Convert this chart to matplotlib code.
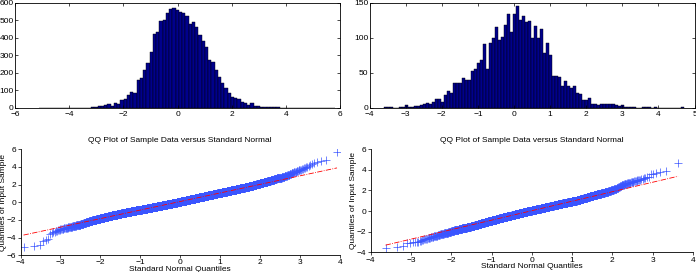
"""Histograms of two samples with their normal QQ plots underneath."""
import numpy as np
import matplotlib
matplotlib.use('Agg')
import matplotlib.pyplot as plt

plt.rcParams['font.family'] = ['Liberation Sans', 'DejaVu Sans']

# left sample: histogram bins (center of first bin, bin width) and counts
left_c0, left_w = -5.05, 0.12
left_counts = [
    1, 1, 1, 0, 0, 1, 1, 1, 0, 0,
    0, 0, 1, 1, 2, 2, 4, 5, 10, 12,
    15, 25, 10, 28, 22, 48, 51, 72, 91, 86,
    158, 171, 215, 257, 320, 425, 434, 497, 505, 540,
    568, 572, 562, 549, 545, 526, 478, 491, 463, 415,
    380, 349, 272, 263, 215, 177, 140, 116, 85, 65,
    57, 50, 36, 30, 19, 28, 12, 9, 7, 6,
    5, 4, 4, 3, 2, 2, 2, 1, 1, 1,
    1, 1, 1, 0, 0, 0, 0, 0, 0, 0,
    1,
]

# right sample
right_c0, right_w = -3.55, 0.083
right_counts = [
    1, 1, 1, 0, 0, 1, 2, 4, 1, 2,
    3, 3, 4, 5, 7, 5, 9, 13, 13, 9,
    18, 24, 22, 35, 35, 35, 43, 40, 40, 53,
    55, 64, 69, 91, 56, 93, 100, 115, 97, 102,
    118, 134, 108, 134, 145, 125, 131, 123, 124, 100,
    117, 100, 113, 79, 93, 75, 45, 45, 44, 31,
    39, 32, 29, 31, 21, 20, 12, 11, 14, 6,
    5, 4, 5, 6, 6, 6, 5, 4, 3, 4,
    2, 2, 1, 1, 0, 0, 2, 1, 1, 0,
    1, 0, 0, 0, 0, 0, 0, 0, 0, 1,
]

left_xticks = [-6, -4, -2, 0, 2, 4, 6]
left_yticks = [0, 100, 200, 300, 400, 500, 600]
right_xticks = [-4, -3, -2, -1, 0, 1, 2, 3, 4, 5]
right_yticks = [0, 50, 100, 150]
qq_xticks = [-4, -3, -2, -1, 0, 1, 2, 3, 4]
qq_left_yticks = [-6, -4, -2, 0, 2, 4, 6]
qq_right_yticks = [-4, -2, 0, 2, 4, 6]

FS = 6


def norm_ppf(p):
    # Acklam's rational approximation of the inverse normal cdf
    a = [-3.969683028665376e+01, 2.209460984245205e+02, -2.759285104469687e+02,
         1.383577518672690e+02, -3.066479806614716e+01, 2.506628277459239e+00]
    b = [-5.447609879822406e+01, 1.615858368580409e+02, -1.556989798598866e+02,
         6.680131188771972e+01, -1.328068155288572e+01]
    c = [-7.784894002430293e-03, -3.223964580411365e-01, -2.400758277161838e+00,
         -2.549732188138014e+00, 4.374664141464968e+00, 2.938163982698783e+00]
    d = [7.784695709041462e-03, 3.224671290700398e-01, 2.445134137142996e+00,
         3.754408661907416e+00]
    p = np.asarray(p, dtype=float)
    out = np.empty_like(p)
    lo = p < 0.02425
    hi = p > 1 - 0.02425
    mid = ~(lo | hi)
    q = np.sqrt(-2 * np.log(p[lo]))
    out[lo] = (((((c[0]*q + c[1])*q + c[2])*q + c[3])*q + c[4])*q + c[5]) / \
              ((((d[0]*q + d[1])*q + d[2])*q + d[3])*q + 1)
    q = np.sqrt(-2 * np.log(1 - p[hi]))
    out[hi] = -(((((c[0]*q + c[1])*q + c[2])*q + c[3])*q + c[4])*q + c[5]) / \
               ((((d[0]*q + d[1])*q + d[2])*q + d[3])*q + 1)
    q = p[mid] - 0.5
    r = q * q
    out[mid] = (((((a[0]*r + a[1])*r + a[2])*r + a[3])*r + a[4])*r + a[5]) * q / \
               (((((b[0]*r + b[1])*r + b[2])*r + b[3])*r + b[4])*r + 1)
    return out


def centers(c0, w, counts):
    return c0 + w * np.arange(len(counts))


def sample_from_hist(c0, w, counts):
    # spread each bin's count evenly inside the bin
    vals = []
    for m, n in zip(centers(c0, w, counts), counts):
        if n == 1:
            vals.append(m)
        elif n > 1:
            vals.extend(m + w * ((np.arange(n) + 0.5) / n - 0.5))
    return np.sort(np.array(vals))


def hist_panel(ax, c0, w, counts, xlim, xticks, ylim, yticks):
    ax.bar(centers(c0, w, counts), counts, width=w, color='#00008c',
           edgecolor='black', linewidth=0.3)
    ax.set_xlim(*xlim); ax.set_ylim(*ylim)
    ax.set_xticks(xticks); ax.set_yticks(yticks)
    ax.tick_params(direction='in', top=True, right=True, length=2.5,
                   width=0.5, labelsize=FS, pad=1)
    ax.tick_params(axis='x', pad=2)
    for s in ax.spines.values():
        s.set_linewidth(0.6)


def qq_panel(ax, c0, w, counts, ylim, yticks):
    y = sample_from_hist(c0, w, counts)
    n = len(y)
    x = norm_ppf((np.arange(1, n + 1) - 0.5) / n)
    # reference line through the quartiles
    q1, q3 = np.percentile(y, [25, 75])
    z1, z3 = norm_ppf(np.array([0.25, 0.75]))
    slope = (q3 - q1) / (z3 - z1)
    icpt = q1 - slope * z1
    ax.plot(x, y, '+', color='#3a55ff', markersize=6, markeredgewidth=0.5)
    xx = np.array([x[0], x[-1]])
    ax.plot(xx, icpt + slope * xx, '-.', color='red', linewidth=0.6)
    ax.set_xlim(-4, 4); ax.set_ylim(*ylim)
    ax.set_xticks(qq_xticks); ax.set_yticks(yticks)
    ax.spines['top'].set_visible(False)
    ax.spines['right'].set_visible(False)
    for s in ('left', 'bottom'):
        ax.spines[s].set_linewidth(0.6)
    ax.tick_params(direction='out', length=2, width=0.5, labelsize=FS, pad=1)
    ax.set_title('QQ Plot of Sample Data versus Standard Normal', fontsize=FS, pad=5)
    ax.set_xlabel('Standard Normal Quantiles', fontsize=FS, labelpad=-0.5)
    ax.set_ylabel('Quantiles of Input Sample', fontsize=FS, labelpad=0)


fig = plt.figure(figsize=(6.96, 2.72), dpi=100)

ax1 = fig.add_axes([0.0216, 0.603, 0.467, 0.386])
hist_panel(ax1, left_c0, left_w, left_counts, (-6, 6), left_xticks, (0, 600), left_yticks)

ax2 = fig.add_axes([0.531, 0.603, 0.467, 0.386])
hist_panel(ax2, right_c0, right_w, right_counts, (-4, 5), right_xticks, (0, 150), right_yticks)

ax3 = fig.add_axes([0.0295, 0.062, 0.459, 0.389])
qq_panel(ax3, left_c0, left_w, left_counts, (-6, 6), qq_left_yticks)

ax4 = fig.add_axes([0.5326, 0.072, 0.463, 0.380])
qq_panel(ax4, right_c0, right_w, right_counts, (-4, 6), qq_right_yticks)

fig.savefig('out.png', dpi=100)
